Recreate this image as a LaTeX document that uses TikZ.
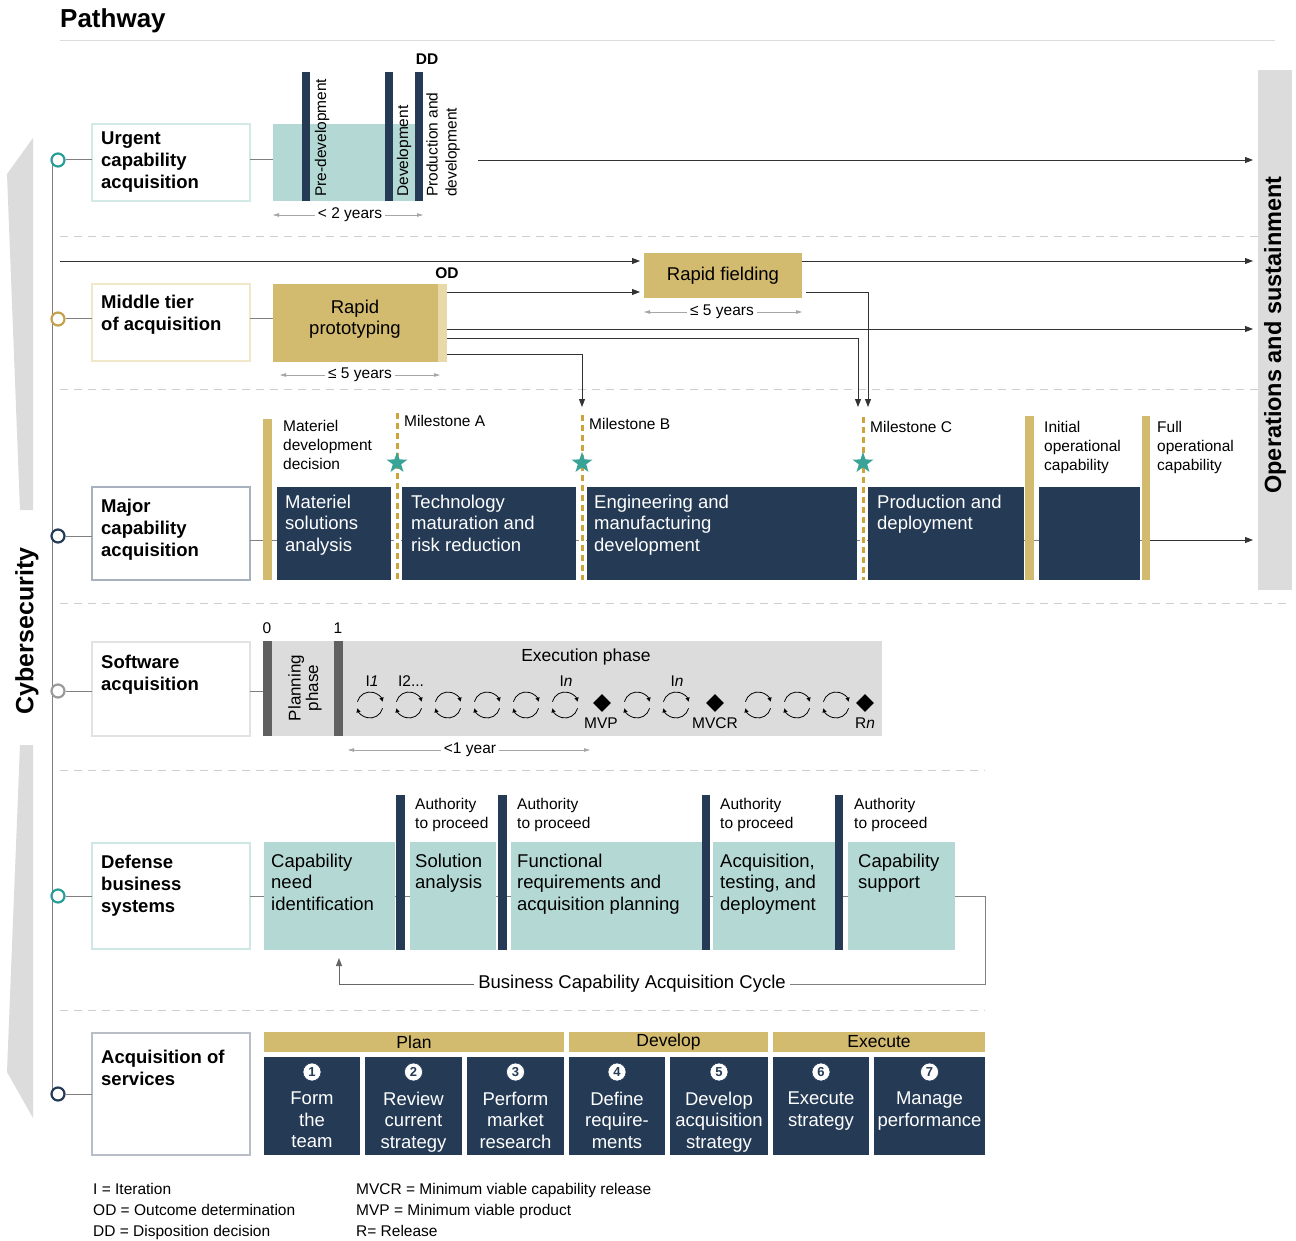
\documentclass[tikz,border=0pt]{standalone}
\usepackage{fontspec}
\setmainfont{Liberation Sans}
\usetikzlibrary{arrows.meta,shapes.geometric}
\definecolor{navy}{HTML}{243A55}
\definecolor{tealL}{HTML}{B4D9D5}
\definecolor{tealD}{HTML}{2A9D98}
\definecolor{gold}{HTML}{D2BA6E}
\definecolor{goldL}{HTML}{E8DAA8}
\definecolor{goldC}{HTML}{C4A24C}
\definecolor{goldM}{HTML}{CBA43C}
\definecolor{grayL}{HTML}{DCDCDC}
\definecolor{grayD}{HTML}{606060}
\definecolor{grayM}{HTML}{9A9A9A}
\definecolor{dashc}{HTML}{CFCFCF}
\definecolor{starc}{HTML}{3AA398}
\definecolor{bUrg}{HTML}{D3E9E6}
\definecolor{bMid}{HTML}{F1E7C9}
\definecolor{bMaj}{HTML}{A8B1BE}
\definecolor{bSw}{HTML}{E2E2E2}
\definecolor{bDef}{HTML}{CCE7E4}
\definecolor{bSv}{HTML}{B7BEC8}
\newcommand\fL{\fontsize{18.5}{21.3}\selectfont}
\newcommand\fB{\fontsize{18.5}{22}\selectfont\bfseries}
\newcommand\fS{\fontsize{15.5}{19}\selectfont}
\begin{document}
\begin{tikzpicture}[x=1pt,y=-1pt,
  rct/.style 2 args={minimum width=#1pt, minimum height=#2pt, inner sep=0pt, outer sep=0pt, anchor=north west},
  lbox/.style={draw=#1, line width=2.4pt, fill=white},
  circ/.style={circle, draw=#1, line width=2.2pt, fill=white, minimum size=13pt, inner sep=0pt},
  tx/.style={inner sep=0pt, anchor=north west, align=left, font=\fL},
  wt/.style={tx, text=white},
  sm/.style={inner sep=0pt, anchor=north west, align=left, font=\fS},
  bl/.style={inner sep=0pt, anchor=north west, align=left, font=\fB},
  cn/.style={line width=1pt, draw=black!50},
  arr/.style={line width=0.9pt, draw=black!80, -{Triangle[length=8pt,width=6pt]}},
  dim/.style={line width=0.8pt, draw=black!35, -{Triangle[length=6pt,width=3.5pt]}},
  sep/.style={line width=1pt, draw=dashc, dash pattern=on 8pt off 6pt},
  itr/.style={line width=0.8pt, -{Triangle[length=4pt,width=4pt]}},
  mstone/.style={line width=3pt, draw=goldM, dash pattern=on 6pt off 4pt},
  mstar/.style={star, star points=5, star point ratio=2.5, fill=starc, minimum size=22pt, inner sep=0pt},
  numc/.style={circle, fill=white, draw=navy, line width=0.6pt, inner sep=0pt, minimum size=18pt, font=\fontsize{13}{13}\selectfont\bfseries, text=navy},
  ctr/.style={inner sep=0pt, align=center, font=\fL, text=white, anchor=north}
]
\useasboundingbox (0,0) rectangle (1296,1241);
\fill[white] (0,0) rectangle (1296,1241);

% ---------- title ----------
\node[inner sep=0pt, anchor=west, font=\fontsize{26}{30}\selectfont\bfseries] (title) at (60,21) {Pathway};
\draw[line width=1pt, draw=grayL] (60,41) -- (1275,41);

% ---------- separators ----------
\draw[sep] (60,237) -- (1292,237);
\draw[sep] (60,389) -- (1292,389);
\draw[sep] (60,603) -- (1292,603);
\draw[sep] (60,770) -- (985,770);
\draw[sep] (60,1010) -- (985,1010);

% ---------- operations bar ----------
\node[rct={34}{520}, fill=grayL] (ops) at (1258,70) {};
\node[rotate=90, inner sep=0pt, font=\fontsize{23.5}{26}\selectfont\bfseries] (opst) at (1275,335) {Operations and sustainment};

% ---------- cybersecurity arrow ----------
\fill[grayL] (33,138) -- (7,174) -- (20,510) -- (33,510) -- cycle;
\fill[grayL] (33,1118) -- (7,1072) -- (20,745) -- (33,745) -- cycle;
\node[rotate=90, inner sep=0pt, font=\fontsize{25}{28}\selectfont\bfseries] (cyber) at (27,631) {Cybersecurity};

% ---------- circles and spine ----------
\coordinate (sp1) at (52,160);
\coordinate (sp2) at (52,1094);
\draw[cn] (sp1) -- (sp2);
\node[circ=tealD] (c1) at (58,160) {};
\node[circ=goldC] (c2) at (58,319) {};
\node[circ=navy] (c3) at (58,536) {};
\node[circ=grayM] (c4) at (58,691) {};
\node[circ=tealD] (c5) at (58,896) {};
\node[circ=navy] (c6) at (58,1094) {};

% ================= Urgent =================
\node[rct={158}{77}, lbox=bUrg] (urg) at (92,124) {};
\node[bl] (urgt) at (101,132) {Urgent\\capability\\acquisition};
\draw[cn] (c1.east) -- (c1.east -| urg.west);
\node[rct={150}{77}, fill=tealL] (ut) at (273,124) {};
\draw[cn] (urg.east |- c1) -- (c1 -| ut.west);
\node[rct={8}{129}, fill=navy] (ub1) at (302,72) {};
\node[rct={8}{129}, fill=navy] (ub2) at (385,72) {};
\node[rct={8}{129}, fill=navy] (ub3) at (415,72) {};
\node[rotate=90, anchor=west, inner sep=0pt, font=\fS] (ut1) at (322,197) {Pre-development};
\node[rotate=90, anchor=west, inner sep=0pt, font=\fS] (ut2) at (404,197) {Development};
\node[rotate=90, anchor=west, inner sep=0pt, font=\fS, align=left] (ut3) at (443,197) {Production and\\development};
\node[inner sep=0pt, font=\fS\bfseries] (dd) at (427,59) {DD};
\coordinate (u0) at (478,160);
\draw[arr, shorten >=5pt] (u0) -- (u0 -| ops.west);
\node[inner sep=3pt, font=\fS] (uy) at (350,215) {< 2 years};
\draw[dim] (uy.west) -- (uy.west -| ut.west);
\draw[dim] (uy.east) -- (uy.east -| ut.east);

% ================= Middle tier =================
\node[rct={158}{77}, lbox=bMid] (mt) at (92,284) {};
\node[bl] (mtt) at (101,295) {Middle tier\\of acquisition};
\draw[cn] (c2.east) -- (c2.east -| mt.west);
\node[rct={174}{78}, fill=gold] (rp) at (273,284) {};
\fill[goldL] (438,284) rectangle (447,362);
\node[inner sep=0pt, font=\fL, align=center] (rpt) at (355,319) {Rapid\\prototyping};
\draw[cn] (mt.east |- c2) -- (c2 -| rp.west);
\node[rct={158}{45}, fill=gold, font=\fL] (rf) at (644,253) {Rapid fielding};
\node[inner sep=0pt, font=\fS\bfseries] (od) at (447,273) {OD};
\coordinate (m0) at (60,261);
\coordinate (k1) at (0,292);
\coordinate (k2) at (0,329);
\coordinate (k3) at (0,338);
\coordinate (k4) at (0,354);
\coordinate (msB) at (582,407);
\coordinate (msC1) at (858,407);
\coordinate (msC2) at (868,407);
\draw[arr, shorten >=4pt] (m0) -- (m0 -| rf.west);
\draw[arr, shorten >=5pt] (rf.east |- m0) -- (m0 -| ops.west);
\draw[arr, shorten >=4pt] (rp.east |- k1) -- (rf.west |- k1);
\draw[arr, shorten >=5pt] (rp.east |- k2) -- (ops.west |- k2);
\draw[arr] (rp.east |- k3) -| (msC1);
\draw[arr] (rp.east |- k4) -| (msB);
\draw[arr, shorten <=4pt] (rf.east |- k1) -| (msC2);
\node[inner sep=3pt, font=\fS] (rpy) at (360,375) {≤ 5 years};
\coordinate (rpyL) at (280,375);
\coordinate (rpyR) at (440,375);
\draw[dim] (rpy.west) -- (rpyL);
\draw[dim] (rpy.east) -- (rpyR);
\node[inner sep=3pt, font=\fS] (rfy) at (722,312) {≤ 5 years};
\draw[dim] (rfy.west) -- (rfy.west -| rf.west);
\draw[dim] (rfy.east) -- (rfy.east -| rf.east);

% ================= Major =================
\node[rct={158}{93}, lbox=bMaj] (mj) at (92,487) {};
\node[bl] (mjt) at (101,499) {Major\\capability\\acquisition};
\draw[cn] (c3.east) -- (c3.east -| mj.west);
\coordinate (k5) at (0,540);
\node[rct={9}{161}, fill=gold] (g1) at (263,419) {};
\node[rct={9}{164}, fill=gold] (g2) at (1025,416) {};
\node[rct={8}{164}, fill=gold] (g3) at (1142,416) {};
\draw[cn] (mj.east |- k5) -- (g3.west |- k5);
\node[rct={114}{93}, fill=navy] (p1) at (277,487) {};
\node[rct={174}{93}, fill=navy] (p2) at (402,487) {};
\node[rct={270}{93}, fill=navy] (p3) at (587,487) {};
\node[rct={156}{93}, fill=navy] (p4) at (868,487) {};
\node[rct={101}{93}, fill=navy] (p5) at (1039,487) {};
\node[rct={9}{161}, fill=gold] at (263,419) {};
\node[rct={9}{164}, fill=gold] at (1025,416) {};
\node[rct={8}{164}, fill=gold] at (1142,416) {};
\draw[arr, shorten >=5pt] (g3.east |- k5) -- (ops.west |- k5);
% milestones
\draw[white, line width=7pt] (397,487) -- (397,580);
\draw[white, line width=7pt] (582,487) -- (582,580);
\draw[white, line width=7pt] (863,487) -- (863,580);
\draw[mstone] (397,413) -- (397,580);
\draw[mstone] (582,415) -- (582,580);
\draw[mstone] (863,417) -- (863,580);
\node[mstar] (sA) at (397,463) {};
\node[mstar] (sB) at (582,463) {};
\node[mstar] (sC) at (863,463) {};
\node[sm] (mdd) at (283,420) {Materiel\\development\\decision};
\node[sm] (mA) at (404,415) {Milestone A};
\node[sm] (mB) at (589,418) {Milestone B};
\node[sm] (mC) at (870,421) {Milestone C};
\node[sm] (ioc) at (1044,421) {Initial\\operational\\capability};
\node[sm] (foc) at (1157,421) {Full\\operational\\capability};
\node[wt] (p1t) at (285,495) {Materiel\\solutions\\analysis};
\node[wt] (p2t) at (411,495) {Technology\\maturation and\\risk reduction};
\node[wt] (p3t) at (594,495) {Engineering and\\manufacturing\\development};
\node[wt] (p4t) at (877,495) {Production and\\deployment};

% ================= Software =================
\node[rct={158}{94}, lbox=bSw] (sw) at (92,642) {};
\node[bl] (swt) at (101,655) {Software\\acquisition};
\draw[cn] (c4.east) -- (c4.east -| sw.west);
\node[rct={610}{95}, fill=grayL] (swb) at (272,641) {};
\node[rct={9}{95}, fill=grayD] (s0) at (263,641) {};
\node[rct={9}{95}, fill=grayD] (s1) at (334,641) {};
\draw[cn] (sw.east |- c4) -- (c4 -| s0.west);
\node[inner sep=0pt, font=\fS] (z0) at (267,628) {0};
\node[inner sep=0pt, font=\fS] (z1) at (338,628) {1};
\node[rotate=90, inner sep=0pt, font=\fontsize{17}{17.5}\selectfont, align=center] (plan) at (305,688) {Planning\\phase};
\node[inner sep=0pt, font=\fontsize{17.5}{20}\selectfont] (exe) at (586,657) {Execution phase};
\foreach \x in {370,409,448,487,526,565,637,676,758,797,836} {
  \draw[itr] (\x,705) ++(165:13pt) arc[start angle=165, end angle=15, radius=13pt];
  \draw[itr] (\x,705) ++(345:13pt) arc[start angle=345, end angle=195, radius=13pt];
}
\node[diamond, fill=black, minimum size=18pt, inner sep=0pt] (dm1) at (602,703) {};
\node[diamond, fill=black, minimum size=18pt, inner sep=0pt] (dm2) at (715,703) {};
\node[diamond, fill=black, minimum size=18pt, inner sep=0pt] (dm3) at (865,703) {};
\node[inner sep=0pt, font=\fS] (lmvp) at (601,723) {MVP};
\node[inner sep=0pt, font=\fS] (lmvcr) at (715,723) {MVCR};
\node[inner sep=0pt, font=\fS] (lrn) at (865,723) {R\textit{n}};
\node[inner sep=0pt, font=\fS] (li1) at (372,681) {I\textit{1}};
\node[inner sep=0pt, font=\fS] (li2) at (411,681) {I2...};
\node[inner sep=0pt, font=\fS] (li3) at (566,681) {I\textit{n}};
\node[inner sep=0pt, font=\fS] (li4) at (677,681) {I\textit{n}};
\node[inner sep=3pt, font=\fS] (swy) at (470,750) {<1 year};
\coordinate (swyL) at (348,750);
\coordinate (swyR) at (590,750);
\draw[dim] (swy.west) -- (swyL);
\draw[dim] (swy.east) -- (swyR);

% ================= Defense business =================
\node[rct={158}{106}, lbox=bDef] (db) at (92,843) {};
\node[bl] (dbt) at (101,855) {Defense\\business\\systems};
\draw[cn] (c5.east) -- (c5.east -| db.west);
\node[inner sep=4pt, font=\fL] (cyc) at (632,984) {Business Capability Acquisition Cycle};
\coordinate (dbR) at (985,896);
\coordinate (cnA) at (339,958);
\draw[cn] (cyc.east) -| (dbR) -- (dbR -| db.east);
\draw[arr, line width=1pt, draw=black!60] (cyc.west) -| (cnA);
\node[rct={131}{108}, fill=tealL] (d1) at (264,842) {};
\node[rct={9}{155}, fill=navy] (n1) at (396,795) {};
\node[rct={86}{108}, fill=tealL] (d2) at (410,842) {};
\node[rct={9}{155}, fill=navy] (n2) at (498,795) {};
\node[rct={191}{108}, fill=tealL] (d3) at (511,842) {};
\node[rct={8}{155}, fill=navy] (n3) at (702,795) {};
\node[rct={122}{108}, fill=tealL] (d4) at (713,842) {};
\node[rct={8}{155}, fill=navy] (n4) at (835,795) {};
\node[rct={107}{108}, fill=tealL] (d5) at (848,842) {};
\node[tx] (d1t) at (271,854) {Capability\\need\\identification};
\node[tx] (d2t) at (415,854) {Solution\\analysis};
\node[tx] (d3t) at (517,854) {Functional\\requirements and\\acquisition planning};
\node[tx] (d4t) at (720,854) {Acquisition,\\testing, and\\deployment};
\node[tx] (d5t) at (858,854) {Capability\\support};
\node[sm] (a1) at (415,798) {Authority\\to proceed};
\node[sm] (a2) at (517,798) {Authority\\to proceed};
\node[sm] (a3) at (720,798) {Authority\\to proceed};
\node[sm] (a4) at (854,798) {Authority\\to proceed};

% ================= Services =================
\node[rct={158}{122}, lbox=bSv] (sv) at (92,1033) {};
\node[bl] (svt) at (101,1050) {Acquisition of\\services};
\draw[cn] (c6.east) -- (c6.east -| sv.west);
\node[rct={300}{20}, fill=gold, font=\fontsize{17.5}{20}\selectfont] (h1) at (264,1032) {Plan};
\node[rct={199}{20}, fill=gold, font=\fontsize{17.5}{20}\selectfont] (h2) at (569,1032) {Develop};
\node[rct={212}{20}, fill=gold, font=\fontsize{17.5}{20}\selectfont] (h3) at (773,1032) {Execute};
\node[rct={96}{98}, fill=navy] (v1) at (264,1057) {};
\node[rct={97}{98}, fill=navy] (v2) at (365,1057) {};
\node[rct={97}{98}, fill=navy] (v3) at (467,1057) {};
\node[rct={96}{98}, fill=navy] (v4) at (569,1057) {};
\node[rct={98}{98}, fill=navy] (v5) at (670,1057) {};
\node[rct={96}{98}, fill=navy] (v6) at (773,1057) {};
\node[rct={111}{98}, fill=navy] (v7) at (874,1057) {};
\node[numc] (q1) at (312,1072) {1};
\node[numc] (q2) at (413.5,1072) {2};
\node[numc] (q3) at (515.5,1072) {3};
\node[numc] (q4) at (617,1072) {4};
\node[numc] (q5) at (719,1072) {5};
\node[numc] (q6) at (821,1072) {6};
\node[numc] (q7) at (929.5,1072) {7};
\node[ctr] (v1t) at (312,1092) {Form\\the\\team};
\node[ctr] (v2t) at (413.5,1092) {Review\\current\\strategy};
\node[ctr] (v3t) at (515.5,1092) {Perform\\market\\research};
\node[ctr] (v4t) at (617,1092) {Define\\require-\\ments};
\node[ctr] (v5t) at (719,1092) {Develop\\acquisition\\strategy};
\node[ctr] (v6t) at (821,1092) {Execute\\strategy};
\node[ctr] (v7t) at (929.5,1092) {Manage\\performance};

% ================= Legend =================
\node[inner sep=0pt, anchor=north west, align=left, font=\fontsize{15.5}{21}\selectfont] (leg1) at (93,1183) {I = Iteration\\OD = Outcome determination\\DD = Disposition decision};
\node[inner sep=0pt, anchor=north west, align=left, font=\fontsize{15.5}{21}\selectfont] (leg2) at (356,1183) {MVCR = Minimum viable capability release\\MVP = Minimum viable product\\R= Release};
\end{tikzpicture}
\end{document}
